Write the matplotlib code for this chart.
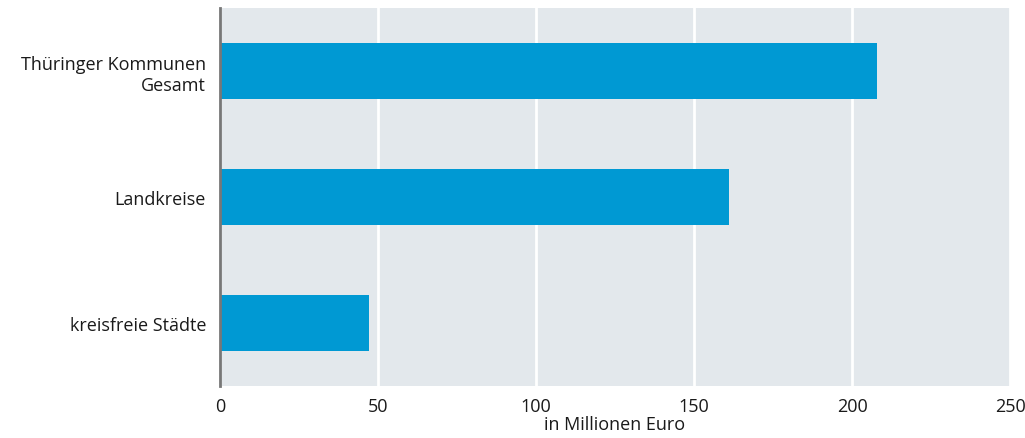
import matplotlib.pyplot as plt

plt.rcParams['font.family'] = ['Open Sans', 'DejaVu Sans']

categories = ["Thüringer Kommunen\nGesamt", "Landkreise", "kreisfreie Städte"]
values = [208, 161, 47]
x_ticks = [0, 50, 100, 150, 200, 250]

fig = plt.figure(figsize=(10.25, 4.39), dpi=100)
ax = fig.add_axes([220 / 1025, 52 / 439, 790 / 1025, 378 / 439])
ax.set_facecolor("#e3e8ec")

ypos = list(range(len(categories)))
ax.barh(ypos, values, height=0.44, color="#0099d3", zorder=3)

ax.set_ylim(len(categories) - 0.5, -0.5)
ax.set_xlim(0, 250)
ax.set_xticks(x_ticks)
ax.set_yticks(ypos)
ax.set_yticklabels(categories, ha="right", multialignment="right")
ax.grid(axis="x", color="white", linewidth=2, zorder=1)
ax.tick_params(length=0, labelsize=13, labelcolor="#1a1a1a")
ax.tick_params(axis="y", pad=10)
ax.tick_params(axis="x", pad=8)

for s in ["top", "right", "bottom"]:
    ax.spines[s].set_visible(False)
ax.spines["left"].set_color("#777777")
ax.spines["left"].set_linewidth(2)
ax.spines["left"].set_zorder(4)

ax.set_xlabel("in Millionen Euro", fontsize=13, color="#1a1a1a", labelpad=0)

fig.savefig("out.png", dpi=100)
